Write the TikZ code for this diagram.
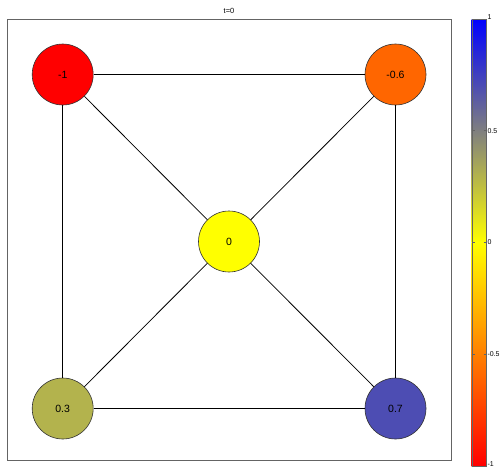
\documentclass[tikz,border=0pt]{standalone}
\usepackage{fontspec}
\setmainfont{Liberation Sans}
\definecolor{cneg1}{RGB}{255,0,0}
\definecolor{cneg06}{RGB}{255,102,0}
\definecolor{czero}{RGB}{255,255,0}
\definecolor{cpos03}{RGB}{179,179,77}
\definecolor{cpos07}{RGB}{77,77,179}
\definecolor{cblue}{RGB}{0,0,255}
\definecolor{framegray}{RGB}{100,100,100}
\begin{document}
\begin{tikzpicture}[x=1pt,y=-1pt,
  vnode/.style={circle,draw=black!80,line width=0.6pt,minimum size=61pt,inner sep=0pt,font=\fontsize{10.5}{12}\selectfont},
  edge/.style={black,line width=0.8pt},
  cbtick/.style={framegray,line width=0.6pt},
  cblabel/.style={font=\fontsize{7}{8}\selectfont,anchor=west,inner sep=0.5pt}]
\useasboundingbox (0,0) rectangle (501,467);
\fill[white] (0,0) rectangle (501,467);
% title
\node[font=\fontsize{7.5}{9}\selectfont] (title) at (229,11) {t=0};
% frame
\draw[framegray,line width=0.7pt] (7.5,19.3) rectangle (451.5,460);
% nodes
\node[vnode,fill=cneg1]  (a) at (62.7,74.5) {-1};
\node[vnode,fill=cneg06] (b) at (395.5,74.5) {-0.6};
\node[vnode,fill=czero]  (c) at (229,241.5) {0};
\node[vnode,fill=cpos03] (d) at (62.7,408.5) {0.3};
\node[vnode,fill=cpos07] (e) at (395.5,408.5) {0.7};
% edges
\draw[edge] (a) -- (b);
\draw[edge] (a) -- (d);
\draw[edge] (a) -- (c);
\draw[edge] (b) -- (e);
\draw[edge] (b) -- (c);
\draw[edge] (d) -- (e);
\draw[edge] (d) -- (c);
\draw[edge] (e) -- (c);
% colorbar
\shade[top color=cblue,bottom color=czero] (471.7,19) rectangle (486.5,242.6);
\shade[top color=czero,bottom color=cneg1] (471.7,242.4) rectangle (486.5,466);
\draw[framegray,line width=0.4pt] (471.7,19) rectangle (486.5,466);
\foreach \yy in {130.75,242.5,354.25}{
  \draw[cbtick] (471.7,\yy) -- (474.5,\yy);
  \draw[cbtick] (483.7,\yy) -- (486.5,\yy);
}
\node[cblabel] (l1) at (486.8,17) {1};
\node[cblabel] (l05) at (486.8,130.75) {0.5};
\node[cblabel] (l0) at (486.8,242.5) {0};
\node[cblabel] (lm05) at (486.8,354.25) {-0.5};
\node[cblabel] (lm1) at (486.8,464.5) {-1};
\end{tikzpicture}
\end{document}
